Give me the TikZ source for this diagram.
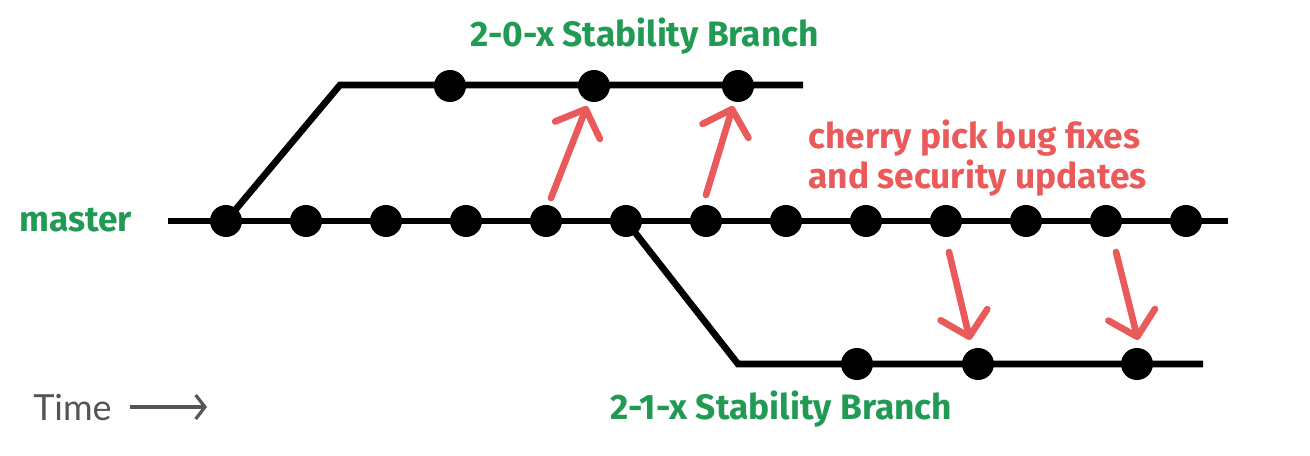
\documentclass[tikz,border=0pt]{standalone}
\usepackage{fontspec}
\setmainfont{Fira Sans}
\newfontfamily\timefont{Lato}
\usetikzlibrary{arrows.meta}
\definecolor{brgreen}{RGB}{33,155,84}
\definecolor{pickred}{RGB}{235,90,90}
\definecolor{timegray}{RGB}{85,85,85}
\tikzset{
  commit/.style={circle,fill=black,inner sep=0pt,minimum size=24pt},
  branchline/.style={line width=5pt,line join=miter},
  pickarrow/.style={pickred,line width=5pt,line cap=round,
    -{Straight Barb[length=17pt,width=36pt,line cap=round,line join=round]}},
  greenlabel/.style={brgreen,font=\fontsize{26.5}{30}\selectfont\bfseries,anchor=base west,inner sep=0pt},
  redlabel/.style={pickred,font=\fontsize{26.5}{30}\selectfont\bfseries,anchor=base west,inner sep=0pt,align=left},
}
\begin{document}
\begin{tikzpicture}[x=0.75pt,y=-0.75pt]
\useasboundingbox (0,0) rectangle (1310,456);
% master
\coordinate (ms) at (168,221);
\coordinate (me) at (1228,221);
\draw[branchline] (ms) -- (me);
\foreach \i in {1,...,13} {
  \node[commit] (m\i) at ({226+80*(\i-1)},221) {};
}
% 2-0-x branch
\coordinate (ac) at (340,85);
\coordinate (ae) at (803,85);
\draw[branchline] (m1.center) -- (ac) -- (ae);
\node[commit] (a1) at (450,86) {};
\node[commit] (a2) at (594,86) {};
\node[commit] (a3) at (738,86) {};
% 2-1-x branch
\coordinate (bc) at (738,364);
\coordinate (be) at (1203,364);
\draw[branchline] (m6.center) -- (bc) -- (be);
\node[commit] (b1) at (857,364) {};
\node[commit] (b2) at (978,364) {};
\node[commit] (b3) at (1137,364) {};
% cherry pick arrows
\coordinate (p1s) at (551,198);
\coordinate (p1e) at (587,106);
\coordinate (p2s) at (706,195);
\coordinate (p2e) at (733,106);
\coordinate (p3s) at (949,252);
\coordinate (p3e) at (970,340);
\coordinate (p4s) at (1116,252);
\coordinate (p4e) at (1138,340);
\draw[pickarrow] (p1s) -- (p1e);
\draw[pickarrow] (p2s) -- (p2e);
\draw[pickarrow] (p3s) -- (p3e);
\draw[pickarrow] (p4s) -- (p4e);
% labels
\node[greenlabel] (t20) at (470,47) {2-0-x Stability Branch};
\node[greenlabel] (t21) at (610,419) {2-1-x Stability Branch};
\node[greenlabel] (tm) at (19,232) {master};
\node[redlabel] (tcp) at (808,189) {cherry pick bug fixes\\and security updates};
\node[timegray,font=\timefont\fontsize{27}{32}\selectfont,anchor=base west,inner sep=0pt] (tt) at (33,420) {Time};
\coordinate (ts) at (130,407);
\coordinate (te) at (207,407);
\draw[timegray,line width=2.4pt,-{Straight Barb[length=7pt,width=18pt]}] (ts) -- (te);
\end{tikzpicture}
\end{document}
